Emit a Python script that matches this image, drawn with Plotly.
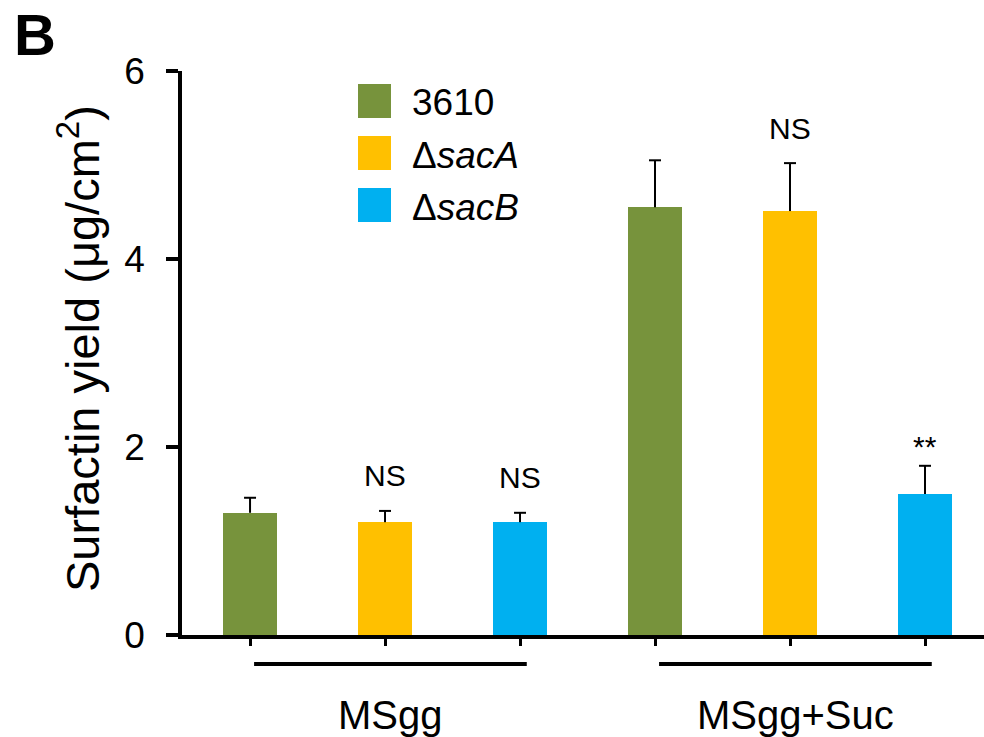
import plotly.graph_objects as go

# Data: surfactin yield per strain in each medium
groups = ["MSgg", "MSgg+Suc"]
strains = ["3610", "Δ<i>sacA</i>", "Δ<i>sacB</i>"]
yield_3610 = [1.30, 4.55]
yield_sacA = [1.20, 4.51]
yield_sacB = [1.20, 1.50]
err_3610 = [0.16, 0.50]
err_sacA = [0.12, 0.51]
err_sacB = [0.10, 0.30]
sig_3610 = ["", ""]
sig_sacA = ["NS", "NS"]
sig_sacB = ["NS", "**"]
y_ticks = [0, 2, 4, 6]

means = [yield_3610, yield_sacA, yield_sacB]
errors = [err_3610, err_sacA, err_sacB]
sigs = [sig_3610, sig_sacA, sig_sacB]
colors = ["#77933C", "#FFC000", "#00B0F0"]

FONT = "Liberation Sans, Arial, sans-serif"
W, H = 984, 737
ML, MR, MT, MB = 182, 0, 71, 102
PW, PH = W - ML - MR, H - MT - MB
X_RANGE = [-0.504, 5.437]
CAP_HALF = 6 * (X_RANGE[1] - X_RANGE[0]) / PW  # 6 px in x units


def px_x(p):
    return (p - ML) / PW


def px_y(p):
    return (H - MB - p) / PH


n_str = len(strains)
fig = go.Figure()

for s, name in enumerate(strains):
    xs = [g * n_str + s for g in range(len(groups))]
    fig.add_trace(go.Bar(
        x=xs, y=means[s], name=name, width=0.4,
        marker=dict(color=colors[s], line=dict(width=0)),
        showlegend=False,
    ))

# upper-only error whiskers: stem from bar top plus a cap
for s in range(n_str):
    ex, ey = [], []
    for g in range(len(groups)):
        xc = g * n_str + s
        top = means[s][g] + errors[s][g]
        ex += [xc, xc, None, xc - CAP_HALF, xc + CAP_HALF, None]
        ey += [means[s][g], top, None, top, top, None]
    fig.add_trace(go.Scatter(
        x=ex, y=ey, mode="lines", line=dict(color="black", width=2),
        showlegend=False, hoverinfo="skip",
    ))

annotations = []
shapes = []

# significance marks above error bars
sig_offset = {"NS": 35, "**": 19}
for s in range(n_str):
    for g in range(len(groups)):
        lab = sigs[s][g]
        if not lab:
            continue
        annotations.append(dict(
            x=g * n_str + s, y=means[s][g] + errors[s][g], xref="x", yref="y",
            text=lab, showarrow=False, yanchor="middle", xanchor="center",
            yshift=sig_offset[lab], font=dict(family=FONT, size=30, color="black"),
        ))

# group underlines and labels
for g, gname in enumerate(groups):
    x0 = g * n_str + 0.03
    x1 = g * n_str + n_str - 1 + 0.05
    shapes.append(dict(type="line", xref="x", yref="paper", x0=x0, x1=x1,
                       y0=px_y(664), y1=px_y(664),
                       line=dict(color="black", width=4)))
    annotations.append(dict(
        x=(x0 + x1) / 2, y=px_y(715), xref="x", yref="paper", text=gname,
        showarrow=False, xanchor="center", yanchor="middle",
        font=dict(family=FONT, size=40, color="black"),
    ))

# legend: colour squares with strain names
row_y = [101, 153, 205]
for s, name in enumerate(strains):
    shapes.append(dict(type="rect", xref="paper", yref="paper",
                       x0=px_x(358), x1=px_x(391),
                       y0=px_y(row_y[s] + 17), y1=px_y(row_y[s] - 17),
                       fillcolor=colors[s], line=dict(width=0)))
    annotations.append(dict(
        x=px_x(410), y=px_y(row_y[s] + 2), xref="paper", yref="paper",
        text=name, showarrow=False, xanchor="left", yanchor="middle",
        font=dict(family=FONT, size=37, color="black"),
    ))

# y-axis title
annotations.append(dict(
    x=0, y=0.5, xref="paper", yref="paper", xshift=-103, yshift=4,
    text="Surfactin yield (μg/cm<sup>2</sup>)", textangle=-90, showarrow=False,
    xanchor="center", yanchor="middle",
    font=dict(family=FONT, size=47, color="black"),
))

# panel letter
annotations.append(dict(
    x=px_x(12), y=px_y(34), xref="paper", yref="paper", text="<b>B</b>",
    showarrow=False, xanchor="left", yanchor="middle",
    font=dict(family=FONT, size=58, color="black"),
))

fig.update_layout(
    width=W, height=H,
    margin=dict(l=ML, r=MR, t=MT, b=MB),
    paper_bgcolor="white", plot_bgcolor="white",
    annotations=annotations, shapes=shapes,
    bargap=0,
    xaxis=dict(
        range=X_RANGE, tickvals=list(range(len(groups) * n_str)),
        showticklabels=False, ticks="outside", ticklen=7, tickwidth=3,
        tickcolor="black", showline=True, linecolor="black", linewidth=4,
        showgrid=False, zeroline=False,
    ),
    yaxis=dict(
        range=[0, 6], tickvals=y_ticks, ticks="outside", ticklen=12, tickwidth=3.5,
        tickcolor="black", showline=True, linecolor="black", linewidth=3.5,
        showgrid=False, zeroline=False,
        tickfont=dict(family=FONT, size=37, color="black"),
        ticklabelstandoff=14,
    ),
)

fig.write_html("out.html")
